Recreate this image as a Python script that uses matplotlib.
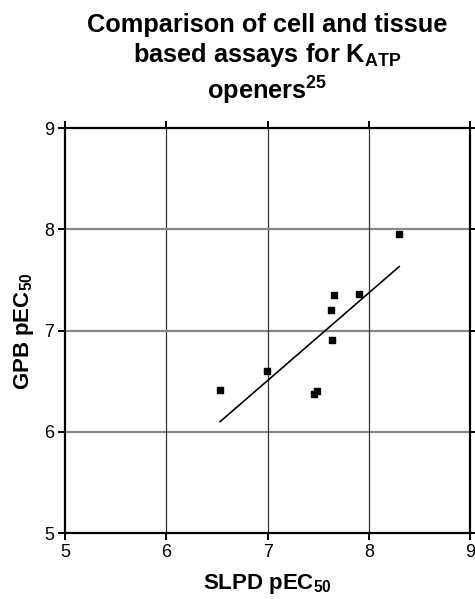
import numpy as np
import matplotlib
matplotlib.use('Agg')
import matplotlib.pyplot as plt

plt.rcParams['font.family'] = ['Liberation Sans', 'DejaVu Sans']
plt.rcParams['mathtext.default'] = 'regular'

# SLPD vs GPB pEC50 values
slpd = [6.53, 6.99, 7.46, 7.49, 7.63, 7.64, 7.66, 7.90, 8.30]
gpb = [6.41, 6.60, 6.37, 6.40, 7.20, 6.91, 7.35, 7.36, 7.95]
ticks = [5, 6, 7, 8, 9]
title_lines = ['Comparison of cell and tissue',
               'based assays for K$_{ATP}$',
               'openers$^{25}$']

fig = plt.figure(figsize=(4.75, 5.99), dpi=100)
ax = fig.add_axes([0.1375, 0.110, 0.852, 0.676])

ax.scatter(slpd, gpb, marker='s', s=22, color='black', zorder=3)

# least squares line over the data range
k, b = np.polyfit(slpd, gpb, 1)
xx = np.array([min(slpd), max(slpd)])
ax.plot(xx, k * xx + b, color='black', lw=1.2, zorder=3)

ax.set_xlim(5, 9)
ax.set_ylim(5, 9)
ax.set_xticks(ticks)
ax.set_yticks(ticks)
for t in ticks[1:-1]:
    ax.axhline(t, color='#888888', lw=1.6, zorder=1)
    ax.axvline(t, color='#333333', lw=0.9, zorder=1)

for s in ax.spines.values():
    s.set_linewidth(1.6)
ax.tick_params(direction='out', length=5, width=1.4, labelsize=13,
               top=True, right=True, pad=3)

ax.set_xlabel('SLPD pEC$_{50}$', fontsize=16, fontweight='bold', labelpad=8)
ax.set_ylabel('GPB pEC$_{50}$', fontsize=16, fontweight='bold', labelpad=6)

# title lines placed one by one (baselines in pixels from top)
for line, ybase in zip(title_lines, [32, 62, 100]):
    fig.text(0.563, 1 - ybase / 599, line, ha='center', va='baseline',
             fontsize=18.3, fontweight='bold')

fig.savefig('out.png', dpi=100)
